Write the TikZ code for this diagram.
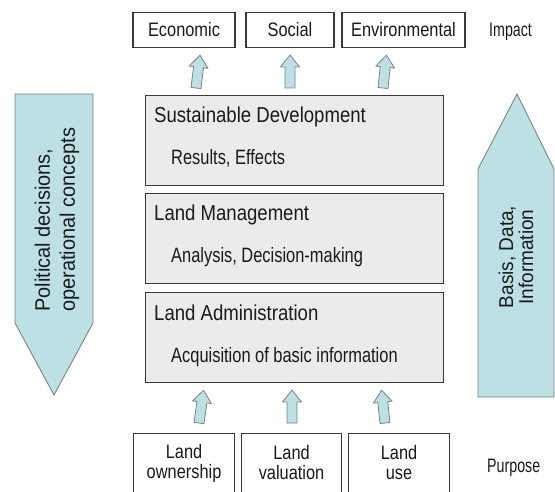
\documentclass[tikz,border=0pt]{standalone}
\usepackage{fontspec}
\setmainfont{Liberation Sans}
\newfontfamily\fTop[FakeStretch=0.84]{Liberation Sans}
\newfontfamily\fTitle[FakeStretch=0.86]{Liberation Sans}
\newfontfamily\fSub[FakeStretch=0.79]{Liberation Sans}
\newfontfamily\fSide[FakeStretch=0.73]{Liberation Sans}
\newfontfamily\fBig[FakeStretch=0.95]{Liberation Sans}
\definecolor{arrfill}{HTML}{BCE0E3}
\definecolor{arrline}{HTML}{7A8486}
\definecolor{boxfill}{HTML}{EBEBEB}
\definecolor{boxline}{HTML}{3A3A3A}
\definecolor{txt}{HTML}{1A1A1A}
\begin{document}
\begin{tikzpicture}[x=1pt,y=-1pt,
  tbox/.style={draw=boxline, line width=1.1pt, fill=white, minimum height=35pt,
     inner sep=0pt, text height=14pt, text depth=0pt, text=txt,
     font=\fTop\fontsize{19.5}{20}\selectfont},
  bbox/.style={draw=boxline, line width=1.1pt, fill=white, minimum height=64pt,
     inner sep=0pt, anchor=north west},
  btxt/.style={align=center, inner sep=0pt, text=txt,
     font=\fTop\fontsize{19.5}{20}\selectfont},
  mbox/.style={draw=boxline, line width=1.1pt, fill=boxfill, minimum width=298pt,
     minimum height=90pt, anchor=north west, inner sep=0pt},
  ttl/.style={anchor=base west, inner sep=0pt, text=txt,
     font=\fTitle\fontsize{21.6}{24}\selectfont},
  sub/.style={anchor=base west, inner sep=0pt, text=txt,
     font=\fSub\fontsize{20.8}{24}\selectfont},
  side/.style={anchor=base west, inner sep=0pt, text=txt,
     font=\fSide\fontsize{19.5}{22}\selectfont},
  bigarrow/.style={draw=arrline, line width=0.9pt, fill=arrfill},
  bigtxt/.style={rotate=90, inner sep=0pt, text=txt,
     font=\fBig\fontsize{21}{25}\selectfont},
  smallarrow/.style={draw=arrline, line width=0.8pt, fill=arrfill, line join=round},
  uparr/.pic={\draw[smallarrow] (-5,0) -- (-5,-21) -- (-9.5,-21) -- (0,-33)
     -- (9.5,-21) -- (5,-21) -- (5,0) -- cycle;}
]
\useasboundingbox (0,0) rectangle (555,492);
\clip (0,0) rectangle (555,492);

% top impact boxes
\node[tbox, minimum width=102pt] (eco) at (184,30) {Economic};
\node[tbox, minimum width=88pt] (soc) at (290,30) {Social};
\node[tbox, minimum width=123pt] (env) at (403.5,30) {Environmental};
\node[side] (impact) at (489,37) {Impact};

% small arrows top
\pic[rotate=-7] at (196,88) {uparr};
\pic at (290,88) {uparr};
\pic[rotate=-6] at (383,88) {uparr};

% main boxes
\node[mbox] (sd) at (145,95) {};
\node[ttl] (sdT) at (154,123) {Sustainable Development};
\node[sub] (sdS) at (171,165) {Results, Effects};

\node[mbox] (lm) at (145,193) {};
\node[ttl] (lmT) at (154,221) {Land Management};
\node[sub] (lmS) at (171,263) {Analysis, Decision-making};

\node[mbox] (la) at (145,292) {};
\node[ttl] (laT) at (154,320) {Land Administration};
\node[sub] (laS) at (171,362) {Acquisition of basic information};

% small arrows bottom
\pic[rotate=-8] at (199,423) {uparr};
\pic at (292,423) {uparr};
\pic[rotate=6] at (385,423) {uparr};

% bottom purpose boxes
\node[bbox, minimum width=101pt] (own) at (133,433) {};
\node[bbox, minimum width=100pt] (val) at (241,433) {};
\node[bbox, minimum width=101pt] (use) at (348,433) {};
\node[btxt] (ownT) at (own.north |- 0,463) {Land\\ownership};
\node[btxt] (valT) at (val.north |- 0,463) {Land\\valuation};
\node[btxt] (useT) at (use.north |- 0,463) {Land\\use};
\node[side] (purpose) at (487,472) {Purpose};

% big side arrows
\draw[bigarrow] (15,94) -- (93,94) -- (93,323) -- (54,395) -- (15,323) -- cycle;
\node[bigtxt, anchor=west, align=left] (pol) at (57,312)
  {Political decisions,\\operational concepts};
\draw[bigarrow] (478,397) -- (554,397) -- (554,169) -- (517,94) -- (478,169) -- cycle;
\node[bigtxt, align=center, font=\fBig\fontsize{20}{20}\selectfont] (basis) at (516,257)
  {Basis, Data,\\Information};
\end{tikzpicture}
\end{document}
